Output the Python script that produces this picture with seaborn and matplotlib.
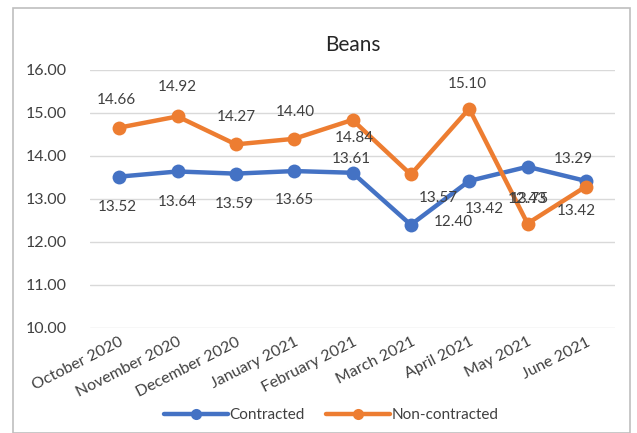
import matplotlib
matplotlib.use("Agg")
import matplotlib.pyplot as plt
import seaborn as sns
import pandas as pd
from matplotlib.patches import Rectangle
from matplotlib.lines import Line2D

months = ["October 2020", "November 2020", "December 2020", "January 2021",
          "February 2021", "March 2021", "April 2021", "May 2021", "June 2021"]
contracted = [13.52, 13.64, 13.59, 13.65, 13.61, 12.40, 13.42, 13.75, 13.42]
non_contracted = [14.66, 14.92, 14.27, 14.40, 14.84, 13.57, 15.10, 12.43, 13.29]
yticks = [10, 11, 12, 13, 14, 15, 16]

# label offsets in pixels (styling only)
off_c = [(-2, -30), (0, -31), (-1, -30), (0, -29), (-1, 14), (43, 3), (15, -28), (2, -32), (-9, -30)]
off_n = [(-3, 28), (0, 29), (1, 27), (1, 27), (2, -18), (28, -24), (-2, 25), (0, 25), (-12, 28)]

sns.set_theme(style="white")
plt.rcParams['font.family'] = ['Lato', 'DejaVu Sans']

BLUE = "#4472C4"
ORANGE = "#ED7D31"
TXT = "#404040"

fig = plt.figure(figsize=(6.37, 4.33), dpi=100)
fig.patch.set_facecolor("white")
fig.patches.append(Rectangle((13 / 637, 0.0), (630 - 13) / 637, 1 - 8 / 433,
                             transform=fig.transFigure, fill=False,
                             edgecolor="#BFBFBF", linewidth=1.2))
ax = fig.add_axes([90 / 637, 1 - 328 / 433, 525 / 637, (328 - 70) / 433])

df = pd.DataFrame({
    "Month": months * 2,
    "Price": contracted + non_contracted,
    "Series": ["Contracted"] * len(months) + ["Non-contracted"] * len(months),
})
sns.lineplot(data=df, x="Month", y="Price", hue="Series",
             palette={"Contracted": BLUE, "Non-contracted": ORANGE},
             marker="o", markersize=10, markeredgewidth=0, linewidth=3.2,
             sort=False, ax=ax, legend=False)

for i, (v, o) in enumerate(zip(contracted, off_c)):
    ax.annotate(f"{v:.2f}", (i, v), xytext=o, textcoords="offset pixels",
                ha="center", va="center", fontsize=11, color=TXT)
for i, (v, o) in enumerate(zip(non_contracted, off_n)):
    ax.annotate(f"{v:.2f}", (i, v), xytext=o, textcoords="offset pixels",
                ha="center", va="center", fontsize=11, color=TXT)

ax.set_xlim(-0.5, len(months) - 0.5)
ax.set_ylim(10, 16)
ax.set_yticks(yticks)
ax.set_yticklabels([f"{t:.2f}" for t in yticks], fontsize=11.5, color=TXT)
ax.set_xticks(range(len(months)))
ax.set_xticklabels(months, rotation=27, ha="right", rotation_mode="anchor",
                   fontsize=11.5, color=TXT)
ax.tick_params(axis="x", length=0, pad=5)
ax.tick_params(axis="y", length=0, pad=17)
ax.grid(axis="y", color="#D9D9D9", linewidth=1)
ax.grid(axis="x", visible=False)
for s in ax.spines.values():
    s.set_visible(False)
ax.set_xlabel("")
ax.set_ylabel("")
ax.set_axisbelow(True)

ax.set_title("Beans", fontsize=15, color="#262626", pad=14)

handles = [Line2D([], [], color=BLUE, lw=3.2, marker="o", markersize=8, markeredgewidth=0),
           Line2D([], [], color=ORANGE, lw=3.2, marker="o", markersize=8, markeredgewidth=0)]
fig.legend(handles, ["Contracted", "Non-contracted"], loc="center",
           bbox_to_anchor=(0.52, 1 - 415 / 433), ncol=2, frameon=False,
           fontsize=11, handlelength=4.2, handletextpad=0.1, columnspacing=1.4,
           labelcolor=TXT)

fig.savefig("out.png", dpi=100)
